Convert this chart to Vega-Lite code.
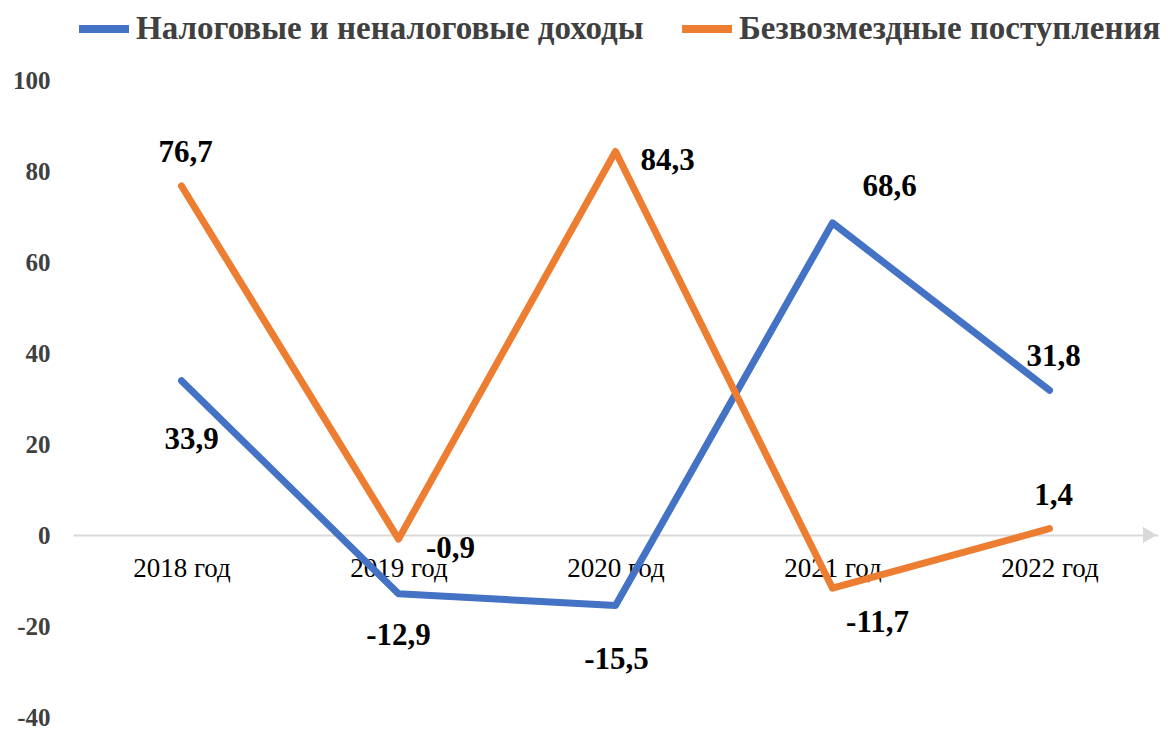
{
  "$schema": "https://vega.github.io/schema/vega-lite/v6.json",
  "width": 1085,
  "height": 637,
  "autosize": {"type": "none"},
  "padding": {"left": 73, "top": 80, "right": 14, "bottom": 12},
  "background": "white",
  "config": {
    "view": {"stroke": null},
    "font": "Liberation Serif"
  },
  "data": {
    "values": [
      {"year": "2018 год", "series": "Налоговые и неналоговые доходы", "value": 33.9, "label": "33,9"},
      {"year": "2019 год", "series": "Налоговые и неналоговые доходы", "value": -12.9, "label": "-12,9"},
      {"year": "2020 год", "series": "Налоговые и неналоговые доходы", "value": -15.5, "label": "-15,5"},
      {"year": "2021 год", "series": "Налоговые и неналоговые доходы", "value": 68.6, "label": "68,6"},
      {"year": "2022 год", "series": "Налоговые и неналоговые доходы", "value": 31.8, "label": "31,8"},
      {"year": "2018 год", "series": "Безвозмездные поступления", "value": 76.7, "label": "76,7"},
      {"year": "2019 год", "series": "Безвозмездные поступления", "value": -0.9, "label": "-0,9"},
      {"year": "2020 год", "series": "Безвозмездные поступления", "value": 84.3, "label": "84,3"},
      {"year": "2021 год", "series": "Безвозмездные поступления", "value": -11.7, "label": "-11,7"},
      {"year": "2022 год", "series": "Безвозмездные поступления", "value": 1.4, "label": "1,4"}
    ]
  },
  "encoding": {
    "x": {
      "field": "year", "type": "nominal", "sort": null,
      "scale": {"type": "point", "padding": 0.5, "domain": ["2018 год", "2019 год", "2020 год", "2021 год", "2022 год"]},
      "axis": {
        "title": null, "labelAngle": 0, "ticks": false, "offset": -182,
        "domainColor": "#d9d9d9", "domainWidth": 2, "labelPadding": 20,
        "labelFont": "Liberation Serif", "labelFontSize": 27, "labelColor": "#000000"
      }
    },
    "y": {
      "field": "value", "type": "quantitative",
      "scale": {"domain": [-40, 100], "nice": false, "zero": false},
      "axis": {
        "title": null, "values": [-40, -20, 0, 20, 40, 60, 80, 100], "grid": false,
        "ticks": false, "domain": false, "labelPadding": 23,
        "labelExpr": "'' + datum.value",
        "labelFont": "Liberation Serif", "labelFontSize": 25, "labelFontWeight": "bold", "labelColor": "#404040"
      }
    }
  },
  "layer": [
    {
      "mark": {"type": "line", "strokeWidth": 7, "strokeJoin": "round", "strokeCap": "round"},
      "encoding": {
        "color": {
          "field": "series", "type": "nominal",
          "scale": {"domain": ["Налоговые и неналоговые доходы", "Безвозмездные поступления"], "range": ["#4472C4", "#ED7D31"]},
          "legend": {
            "title": null, "orient": "none", "direction": "horizontal",
            "legendX": 2, "legendY": -80,
            "symbolType": "stroke", "symbolSize": 2500, "symbolStrokeWidth": 8,
            "labelFont": "Liberation Serif", "labelFontSize": 33, "labelFontWeight": "bold",
            "labelColor": "#404040", "labelOffset": 3, "columnPadding": 22, "labelLimit": 700
          }
        }
      }
    },
    {
      "transform": [{"filter": "(datum.series == 'Безвозмездные поступления' && (datum.year == '2018 год' || datum.year == '2022 год')) || (datum.series == 'Налоговые и неналоговые доходы' && datum.year == '2022 год')"}],
      "mark": {"type": "text", "font": "Liberation Serif", "fontSize": 31, "fontWeight": "bold", "color": "#000000", "dy": -33, "dx": 4},
      "encoding": {"text": {"field": "label"}}
    },
    {
      "transform": [{"filter": "datum.series == 'Налоговые и неналоговые доходы' && datum.year == '2018 год'"}],
      "mark": {"type": "text", "font": "Liberation Serif", "fontSize": 31, "fontWeight": "bold", "color": "#000000", "dy": 59, "dx": 10},
      "encoding": {"text": {"field": "label"}}
    },
    {
      "transform": [{"filter": "datum.series == 'Налоговые и неналоговые доходы' && datum.year == '2019 год'"}],
      "mark": {"type": "text", "font": "Liberation Serif", "fontSize": 31, "fontWeight": "bold", "color": "#000000", "dy": 42, "dx": 0},
      "encoding": {"text": {"field": "label"}}
    },
    {
      "transform": [{"filter": "datum.series == 'Налоговые и неналоговые доходы' && datum.year == '2020 год'"}],
      "mark": {"type": "text", "font": "Liberation Serif", "fontSize": 31, "fontWeight": "bold", "color": "#000000", "dy": 54, "dx": 1},
      "encoding": {"text": {"field": "label"}}
    },
    {
      "transform": [{"filter": "datum.series == 'Налоговые и неналоговые доходы' && datum.year == '2021 год'"}],
      "mark": {"type": "text", "font": "Liberation Serif", "fontSize": 31, "fontWeight": "bold", "color": "#000000", "dy": -36, "dx": 57},
      "encoding": {"text": {"field": "label"}}
    },
    {
      "transform": [{"filter": "datum.series == 'Безвозмездные поступления' && (datum.year == '2019 год' || datum.year == '2020 год')"}],
      "mark": {"type": "text", "font": "Liberation Serif", "fontSize": 31, "fontWeight": "bold", "color": "#000000", "dy": 10, "dx": 52},
      "encoding": {"text": {"field": "label"}}
    },
    {
      "transform": [{"filter": "datum.series == 'Безвозмездные поступления' && datum.year == '2021 год'"}],
      "mark": {"type": "text", "font": "Liberation Serif", "fontSize": 31, "fontWeight": "bold", "color": "#000000", "dy": 35, "dx": 45},
      "encoding": {"text": {"field": "label"}}
    },
    {
      "mark": {"type": "point", "shape": "triangle-right", "filled": true, "size": 220, "color": "#d9d9d9", "opacity": 1, "xOffset": 100},
      "encoding": {
        "x": {"datum": "2022 год"},
        "y": {"datum": 0}
      }
    }
  ]
}
